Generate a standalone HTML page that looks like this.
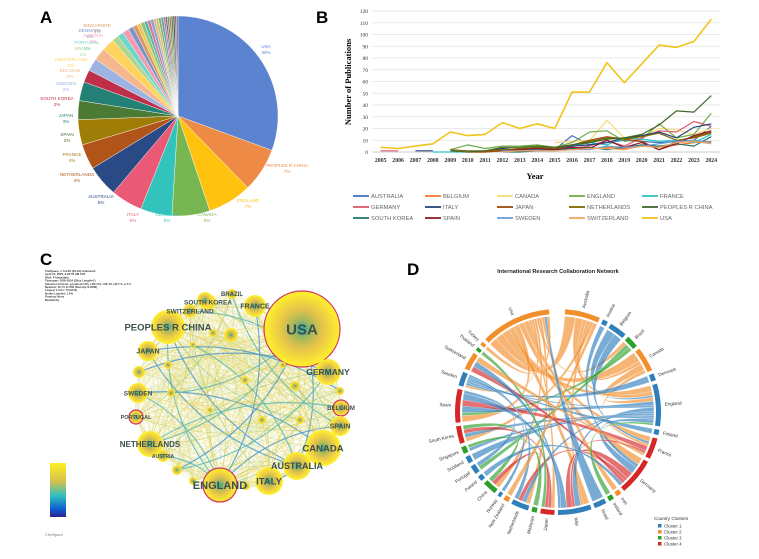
<!DOCTYPE html>
<html><head><meta charset="utf-8">
<style>
html,body{margin:0;padding:0;background:#fff;}
svg{display:block;font-family:"Liberation Sans",sans-serif;}
</style></head>
<body>
<svg id="fig" width="759" height="559" viewBox="0 0 759 559">
  <rect width="759" height="559" fill="#fff"/>
  <text x="40" y="23" font-size="17" font-weight="bold">A</text>
  <text x="316" y="23" font-size="17" font-weight="bold">B</text>
  <text x="40" y="265" font-size="17" font-weight="bold">C</text>
  <text x="407" y="275" font-size="17" font-weight="bold">D</text>
  <g id="pie"></g>
  <g id="line"></g>
  <g id="net"></g>
  <g id="chord"></g>
</svg>
<script>
const NS="http://www.w3.org/2000/svg";
function mk(tag,attrs,parent){const e=document.createElementNS(NS,tag);for(const k in attrs)e.setAttribute(k,attrs[k]);parent.appendChild(e);return e;}

/* ---------- Panel A: pie ---------- */
const pieCountries=["USA","PEOPLES R CHINA","ENGLAND","CANADA","GERMANY","ITALY","AUSTRALIA","NETHERLANDS","FRANCE","SPAIN","JAPAN","SOUTH KOREA","SWEDEN","BELGIUM","SWITZERLAND","BRAZIL","PORTUGAL","AUSTRIA","DENMARK","SINGAPORE","NEW ZEALAND","SCOTLAND","TURKEY","ISRAEL","FINLAND","IRELAND","NORWAY","POLAND","MALAYSIA","THAILAND","IRAN","CHILE","MEXICO","INDIA","GREECE","ARGENTINA","SOUTH AFRICA"];
const pieValues=[30,7,7,6,5,5,5,4,4,3,3,2,2,2,2,1,1,1,0.8,0.7,0.6,0.6,0.5,0.5,0.5,0.4,0.4,0.4,0.4,0.3,0.3,0.3,0.3,0.3,0.3,0.25,0.25];
const pieColors=["#5b83cf","#ed8a45","#ffc20e","#78b652","#33c3bd","#ea5a77","#2a4a86","#b0541a","#a07d06","#4a7a33","#238075","#c02f4a","#9db4e3","#f5b88e","#ffd45e","#add68f","#6fd6cc","#f29bb0","#7a93c9","#d99a5d","#e8c95a","#90c47a","#58b4b0","#d47b8f","#8da0cf","#e0b48a","#c8c86a","#80b080","#70a0a0","#c07080","#6070a0","#a08060","#909040","#608050","#406060","#a05060","#607090"];
const pieLabelPos=[[266,48],[287,167],[248,202],[207,216],[167,216],[133,216],[101,198],[77,176],[72,156],[67,136],[66,117],[57,100],[66,85],[70,72],[71,61],[83,50],[87,44],[93,37],[90,32],[97,27]];
(function(){
  const g=document.getElementById('pie');const cx=178,cy=116,r=100;
  const tot=pieValues.reduce((a,b)=>a+b,0);let a0=0;
  pieValues.forEach((v,i)=>{
    const a1=a0+v/tot*2*Math.PI;
    const x0=cx+r*Math.sin(a0),y0=cy-r*Math.cos(a0),x1=cx+r*Math.sin(a1),y1=cy-r*Math.cos(a1);
    const p=mk('path',{d:`M${cx},${cy}L${x0},${y0}A${r},${r} 0 ${a1-a0>Math.PI?1:0} 1 ${x1},${y1}Z`,fill:pieColors[i%pieColors.length],stroke:"#fff","stroke-width":0.4},g);
    
    
    a0=a1;
  });
  pieLabelPos.forEach((pp,i)=>{
    const t=mk('text',{x:pp[0],y:pp[1],"font-size":4.6,"text-anchor":"middle",fill:pieColors[i]},g);
    t.textContent=pieCountries[i];
    
    
    const t2=mk('text',{x:pp[0],y:pp[1]+6,"font-size":4.6,"text-anchor":"middle",fill:pieColors[i]},g);
    t2.textContent=Math.round(pieValues[i])+'%';
    
    
  });
})();

/* ---------- Panel B: line chart ---------- */
const years=["2005","2006","2007","2008","2009","2010","2011","2012","2013","2014","2015","2016","2017","2018","2019","2020","2021","2022","2023","2024"];
const yTicks=[0,10,20,30,40,50,60,70,80,90,100,110,120];
const seriesNames=["AUSTRALIA","BELGIUM","CANADA","ENGLAND","FRANCE","GERMANY","ITALY","JAPAN","NETHERLANDS","PEOPLES R CHINA","SOUTH KOREA","SPAIN","SWEDEN","SWITZERLAND","USA"];
const seriesColors=["#4472c4","#ed7d31","#f7dc7a","#70ad47","#2ec4c4","#e05a6e","#264478","#9e480e","#7a6a00","#43682b","#1f7a6e","#8b1a2b","#6a9fd8","#f4a460","#f0c419"];
const sAustralia=[null,null,null,null,null,null,0,1,1,2,2,14,6,8,10,9,8,9,10,22];
const sBelgium=[null,null,null,null,null,0,0,1,1,1,2,2,3,4,3,5,4,6,8,9];
const sCanada=[null,null,null,null,null,null,null,null,null,null,8,9,10,27,12,13,20,19,15,20];
const sEngland=[null,null,null,null,2,6,3,5,5,6,4,8,17,18,9,11,24,12,15,33];
const sFrance=[null,null,null,0,0,0,1,2,2,3,3,5,8,6,12,11,9,10,8,15];
const sGermany=[1,1,null,null,null,null,null,1,1,1,2,3,5,10,5,12,18,17,26,22];
const sItaly=[null,null,1,1,null,null,1,3,2,4,3,5,6,8,12,14,17,12,21,24];
const sJapan=[null,null,null,null,null,0,0,1,2,3,4,6,10,13,11,9,2,9,13,17];
const sNetherlands=[null,null,null,null,2,1,1,2,3,4,3,6,9,12,11,13,16,10,12,16];
const sChina=[null,null,null,null,1,0,1,4,4,5,4,6,8,11,12,15,23,35,34,48];
const sSouthKorea=[null,null,null,null,null,null,null,0,0,1,2,3,4,2,4,6,5,7,5,13];
const sSpain=[null,null,null,null,null,null,null,1,2,3,2,4,3,10,4,8,2,7,14,18];
const sSweden=[null,null,null,null,null,null,null,1,1,1,1,2,2,5,4,5,7,9,10,8];
const sSwitzerland=[null,null,null,null,null,null,null,0,1,1,1,2,3,3,2,5,4,8,9,7];
const sUSA=[4,3,5,7,17,14,15,25,20,24,20,51,51,76,59,75,91,89,94,113];
const seriesData=[sAustralia,sBelgium,sCanada,sEngland,sFrance,sGermany,sItaly,sJapan,sNetherlands,sChina,sSouthKorea,sSpain,sSweden,sSwitzerland,sUSA];
(function(){
  const g=document.getElementById('line');
  const L=372,R=720,T=11,B=152,yMax=120;
  const X=i=>L+(i+0.5)*(R-L)/years.length;
  const Y=v=>B-v/yMax*(B-T);
  yTicks.forEach(v=>{
    const gl=mk('line',{x1:L,x2:R,y1:Y(v),y2:Y(v),stroke:v===0?"#bbb":"#e2e2e2","stroke-width":0.8},g);
    
    
    const t=mk('text',{x:368,y:Y(v)+2,"font-size":5.5,"text-anchor":"end",fill:"#333","font-family":"Liberation Serif, serif"},g);
    t.textContent=v;
    
    
  });
  years.forEach((y,i)=>{
    const t=mk('text',{x:X(i),y:B+10,"font-size":5.8,"text-anchor":"middle","font-weight":"bold",fill:"#333","font-family":"Liberation Serif, serif"},g);
    t.textContent=y;
    
    
  });
  const yt=mk('text',{x:0,y:0,"font-size":8.5,"font-weight":"bold","text-anchor":"middle",transform:"translate(351,82) rotate(-90)","font-family":"Liberation Serif, serif"},g);
  yt.textContent="Number of Publications";
  
  
  const xt=mk('text',{x:535,y:179,"font-size":8.5,"font-weight":"bold","text-anchor":"middle","font-family":"Liberation Serif, serif"},g);
  xt.textContent="Year";
  
  
  seriesData.forEach((s,k)=>{
    let d="",pen=false;
    s.forEach((v,i)=>{if(v===null){pen=false;return;}d+=(pen?"L":"M")+X(i).toFixed(1)+","+Y(v).toFixed(1);pen=true;});
    const p=mk('path',{d:d,fill:"none",stroke:seriesColors[k],"stroke-width":k===14?1.6:1.2,"stroke-linejoin":"round"},g);
    
    
  });
  const colX=[353,425,497,569,642];
  seriesNames.forEach((n,k)=>{
    const cx=colX[k%5],cy=196+Math.floor(k/5)*11;
    const ln=mk('line',{x1:cx,x2:cx+16,y1:cy,y2:cy,stroke:seriesColors[k],"stroke-width":1.8},g);
    
    
    const t=mk('text',{x:cx+18,y:cy+2,"font-size":5.8,fill:"#666"},g);
    t.textContent=n;
    
    
  });
})();

/* ---------- Panel C: network ---------- */
const netNodes=[
 ["USA",302,329,38,15,true],["PEOPLES R CHINA",168,327,17,9.5,false],["SWITZERLAND",190,311,7,6.5,false],
 ["SOUTH KOREA",208,302,8,6.5,false],["FRANCE",255,306,11,7,false],["BRAZIL",232,294,5,6,false],
 ["JAPAN",148,351,10,7,false],["GERMANY",328,372,13,8.5,false],["SWEDEN",138,393,10,6.5,false],
 ["PORTUGAL",136,417,7,5.5,true],["BELGIUM",341,408,8,6,true],["SPAIN",340,426,10,7,false],
 ["NETHERLANDS",150,444,13,8,false],["CANADA",323,448,18,9.5,false],["AUSTRIA",163,456,6,5,false],
 ["AUSTRALIA",297,466,14,9,false],["ENGLAND",220,485,17,11,true],["ITALY",269,481,14,9.5,false],
 ["",139,372,6,0,false],["",231,336,5,0,false],["",295,386,5,0,false],["",171,393,4,0,false],
 ["",300,420,4,0,false],["",177,470,5,0,false],["",193,481,4,0,false],["",246,486,4,0,false],
 ["",213,333,4,0,false],["",340,391,4,0,false],["",193,345,3,0,false],["",283,365,3,0,false],
 ["",205,300,8,0,false],["",231,335,7,0,false],["",168,365,4,0,false],["",245,380,4,0,false],["",262,420,4,0,false],["",210,410,3,0,false]];
const netEdges=[[0,1],[0,2],[0,3],[0,4],[0,6],[0,7],[0,8],[0,9],[0,10],[0,11],[0,12],[0,13],[0,15],[0,16],[0,17],[0,14],
 [1,6],[1,16],[1,13],[1,15],[1,3],[1,7],[2,16],[2,17],[2,7],[3,6],[4,16],[4,10],[4,17],[4,11],[5,9],[5,11],
 [6,16],[6,15],[7,16],[7,17],[7,12],[7,14],[8,16],[8,12],[8,13],[9,10],[9,11],[9,16],[10,16],[10,12],[11,17],[11,16],
 [12,16],[12,17],[13,16],[13,15],[14,16],[15,16],[15,17],[16,17],[18,0],[19,16],[20,13],[21,0],[22,16],[23,0],
 [24,15],[25,0],[26,13],[27,16],[28,15],[29,12],[18,7],[19,12],[20,8],[21,11],[22,1],[23,7],[26,17],[27,6],[3,17],[5,16],[2,12]];
(function(){
  const g=document.getElementById('net');
  const defs=mk('defs',{},g);
  const rg=mk('radialGradient',{id:"nodeGrad"},defs);
  mk('stop',{offset:"0%","stop-color":"#2aa8a0"},rg);
  mk('stop',{offset:"25%","stop-color":"#a7b85a"},rg);
  mk('stop',{offset:"55%","stop-color":"#e8c44a"},rg);
  mk('stop',{offset:"100%","stop-color":"#fff22a"},rg);
  const lg=mk('linearGradient',{id:"barGrad",x1:0,y1:0,x2:0,y2:1},defs);
  [["0%","#ffee20"],["35%","#d4c050"],["60%","#30c0c0"],["85%","#1060d0"],["100%","#2a2090"]].forEach(s=>mk('stop',{offset:s[0],"stop-color":s[1]},lg));
  const mesh=mk('g',{},g);
  for(let i=0;i<netNodes.length;i++)for(let j=i+1;j<netNodes.length;j++){
    const a=netNodes[i],b=netNodes[j];
    const mx=(a[1]+b[1])/2,my=(a[2]+b[2])/2,dx=b[1]-a[1],dy=b[2]-a[2],bd=((i+j)%2?0.12:-0.12);
    const p=mk('path',{d:`M${a[1]},${a[2]}Q${mx-dy*bd},${my+dx*bd} ${b[1]},${b[2]}`,fill:"none",stroke:(i+j)%3?"#eadf7a":"#c8d89a","stroke-width":0.45,opacity:0.6},mesh);
    
    
  }
  const eg=mk('g',{},g);
  const edgeCols=["#e8d870","#d8d060","#9cc888","#5ab8b0","#e0c860","#4a98c8","#c8d870"];
  netEdges.forEach((e,i)=>{
    const a=netNodes[e[0]],b=netNodes[e[1]];
    const mx=(a[1]+b[1])/2,my=(a[2]+b[2])/2;
    const dx=b[1]-a[1],dy=b[2]-a[2];
    const bend=(i%2?0.2:-0.2);
    const c=edgeCols[i%edgeCols.length];
    const p=mk('path',{d:`M${a[1]},${a[2]}Q${mx-dy*bend},${my+dx*bend} ${b[1]},${b[2]}`,fill:"none",stroke:c,"stroke-width":(c==="#4a98c8"||c==="#5ab8b0")?1.2:0.7,opacity:0.8},eg);
    
    
  });
  netNodes.forEach(n=>{
    const c=mk('circle',{cx:n[1],cy:n[2],r:n[3],fill:"url(#nodeGrad)",stroke:n[5]?"#d2306a":"none","stroke-width":1.2},g);
    
    
  });
  netNodes.forEach(n=>{
    if(!n[0])return;
    const t=mk('text',{x:n[1],y:n[2]+n[4]*0.35,"font-size":n[4],"font-weight":"bold","text-anchor":"middle",fill:"#3b5050"},g);
    t.textContent=n[0];
    
    
  });
  const bar=mk('rect',{x:50,y:463,width:16,height:54,fill:"url(#barGrad)"},g);
  
  
  const info=["CiteSpace, v. 6.3.R1 (64-bit) Advanced","April 15, 2025, 9:22:55 AM CST","WoS: F:\\data\\data","Timespan: 2005-2024 (Slice Length=1)","Selection Criteria: g-index (k=25), LRF=3.0, L/N=10, LBY=5, e=1.0","Network: N=74, E=562 (Density=0.2083)","Largest 1 CCs: 70 (94%)","Nodes Labeled: 1.0%","Pruning: None","Modularity"];
  info.forEach((s,i)=>{const t=mk('text',{x:45,y:272+i*3.2,"font-size":2.8,"font-weight":"bold",fill:"#333"},g);t.textContent=s;
    
    });
  const cs=mk('text',{x:45,y:536,"font-size":4.5,fill:"#777","font-family":"Liberation Serif, serif"},g);
  cs.textContent="CiteSpace";
  
  
})();

/* ---------- Panel D: chord ---------- */
const chordSegs=[["Australia",2,4,24],["Austria",1,26,29],["Belgium",1,31,41],["Brazil",3,43,50],["Canada",2,52,66],["Denmark",1,68,72],["England",1,74,98],["Finland",1,100,103],["France",4,105,117],["Germany",4,119,140],["Iran",2,142,145],["Ireland",3,147,150],["Israel",1,152,159],["Italy",1,161,180],["Japan",4,182,190],["Malaysia",3,192,195],["Netherlands",1,197,207],["New Zealand",2,209,212],["Norway",1,214,216],["China",3,218,226],["Poland",1,228,231],["Portugal",1,233,238],["Scotland",1,240,244],["Singapore",3,246,250],["South Korea",4,252,262],["Spain",4,264,283],["Sweden",1,285,293],["Switzerland",2,295,305],["Thailand",3,307,309],["Turkey",2,311,313],["Usa",2,315,355]];
const chordLinks=[["Usa","Australia",3],["Usa","Canada",3],["Usa","England",3],["Usa","Italy",2],["Usa","Spain",2],["Usa","Germany",2],["Usa","France",2],["Usa","Japan",1],["Usa","Sweden",1],["Usa","China",1],["Usa","Brazil",1],["Usa","Netherlands",1],
["Australia","England",2],["Australia","Canada",1],["Australia","Italy",1],["Australia","South Korea",1],["Austria","Germany",1],["Belgium","England",1],["Belgium","France",1],["Brazil","Portugal",1],["Brazil","Spain",1],["Canada","England",2],["Canada","France",1],["Denmark","Sweden",1],
["England","Spain",2],["England","Sweden",1],["England","Italy",2],["England","Netherlands",1],["England","Scotland",1],["England","Singapore",1],["England","South Korea",1],["England","Germany",2],["Finland","Sweden",1],["France","Spain",2],["France","Italy",1],["Germany","Italy",2],["Germany","Netherlands",1],["Germany","Switzerland",1],
["Iran","Usa",1],["Ireland","England",1],["Israel","Usa",1],["Italy","Spain",2],["Italy","Switzerland",1],["Japan","South Korea",1],["Japan","China",1],["Malaysia","Singapore",1],["Netherlands","Sweden",1],["New Zealand","Australia",1],["Norway","Sweden",1],["China","South Korea",1],["Poland","Germany",1],["Portugal","Spain",1],["Thailand","Japan",1],["Turkey","Usa",1],["Switzerland","France",1]];
const clusterNames=["Cluster 1","Cluster 2","Cluster 3","Cluster 4"];
const clusterColors=["#2f7fbd","#f28e2b","#2ca02c","#d62728"];
(function(){
  const g=document.getElementById('chord');
  const cx=558,cy=412,R=96;
  const t=mk('text',{x:558,y:273,"font-size":5.6,"font-weight":"bold","text-anchor":"middle",fill:"#222"},g);
  t.textContent="International Research Collaboration Network";
  
  
  const rad=d=>d*Math.PI/180;
  const pt=(d,r)=>[cx+r*Math.sin(rad(d)),cy-r*Math.cos(rad(d))];
  const idx={};chordSegs.forEach((s,i)=>idx[s[0]]=i);
  const tot=chordSegs.map(()=>0);
  chordLinks.forEach(l=>{tot[idx[l[0]]]+=l[2];tot[idx[l[1]]]+=l[2];});
  const cur=chordSegs.map(s=>s[2]);
  const take=(name,w)=>{const i=idx[name];const s=chordSegs[i];const span=(s[3]-s[2])*w/tot[i];const a=cur[i];cur[i]+=span;return [a,a+span];};
  const cg=mk('g',{},g);
  chordLinks.forEach(l=>{
    const A=take(l[0],l[2]),B=take(l[1],l[2]);
    const a1=pt(A[0],R),a2=pt(A[1],R),b1=pt(B[0],R),b2=pt(B[1],R);
    const col=clusterColors[chordSegs[idx[l[0]]][1]-1];
    const p=mk('path',{d:`M${a1}A${R},${R} 0 0 1 ${a2}Q${cx},${cy} ${b1}A${R},${R} 0 0 1 ${b2}Q${cx},${cy} ${a1}Z`,fill:col,"fill-opacity":0.65,stroke:"#fff","stroke-opacity":0.6,"stroke-width":0.4},cg);
    
    
  });
  chordSegs.forEach(s=>{
    const r1=R+2,r2=R+7;
    const p1=pt(s[2],r1),p2=pt(s[3],r1),p3=pt(s[3],r2),p4=pt(s[2],r2);
    const lf=(s[3]-s[2])>180?1:0;
    const a=mk('path',{d:`M${p1}A${r1},${r1} 0 ${lf} 1 ${p2}L${p3}A${r2},${r2} 0 ${lf} 0 ${p4}Z`,fill:clusterColors[s[1]-1]},g);
    
    
    const m=(s[2]+s[3])/2;const lp=pt(m,R+11);
    let rot=m-90;let anchor="start";
    if(m>180){rot=m+90;anchor="end";}
    const tx=mk('text',{x:lp[0],y:lp[1],"font-size":4.6,fill:"#333","text-anchor":anchor,"dominant-baseline":"middle",transform:`rotate(${rot} ${lp[0]} ${lp[1]})`},g);
    tx.textContent=s[0];
    
    
  });
  const lt=mk('text',{x:654,y:520,"font-size":4.6,fill:"#333"},g);
  lt.textContent="Country Clusters";
  
  
  clusterNames.forEach((n,i)=>{
    const r=mk('rect',{x:658,y:524+i*6,width:3.5,height:3.5,fill:clusterColors[i]},g);
    
    
    const tt=mk('text',{x:664,y:527.5+i*6,"font-size":4.4,fill:"#333"},g);
    tt.textContent=n;
    
    
  });
})();
</script>
</body></html>
